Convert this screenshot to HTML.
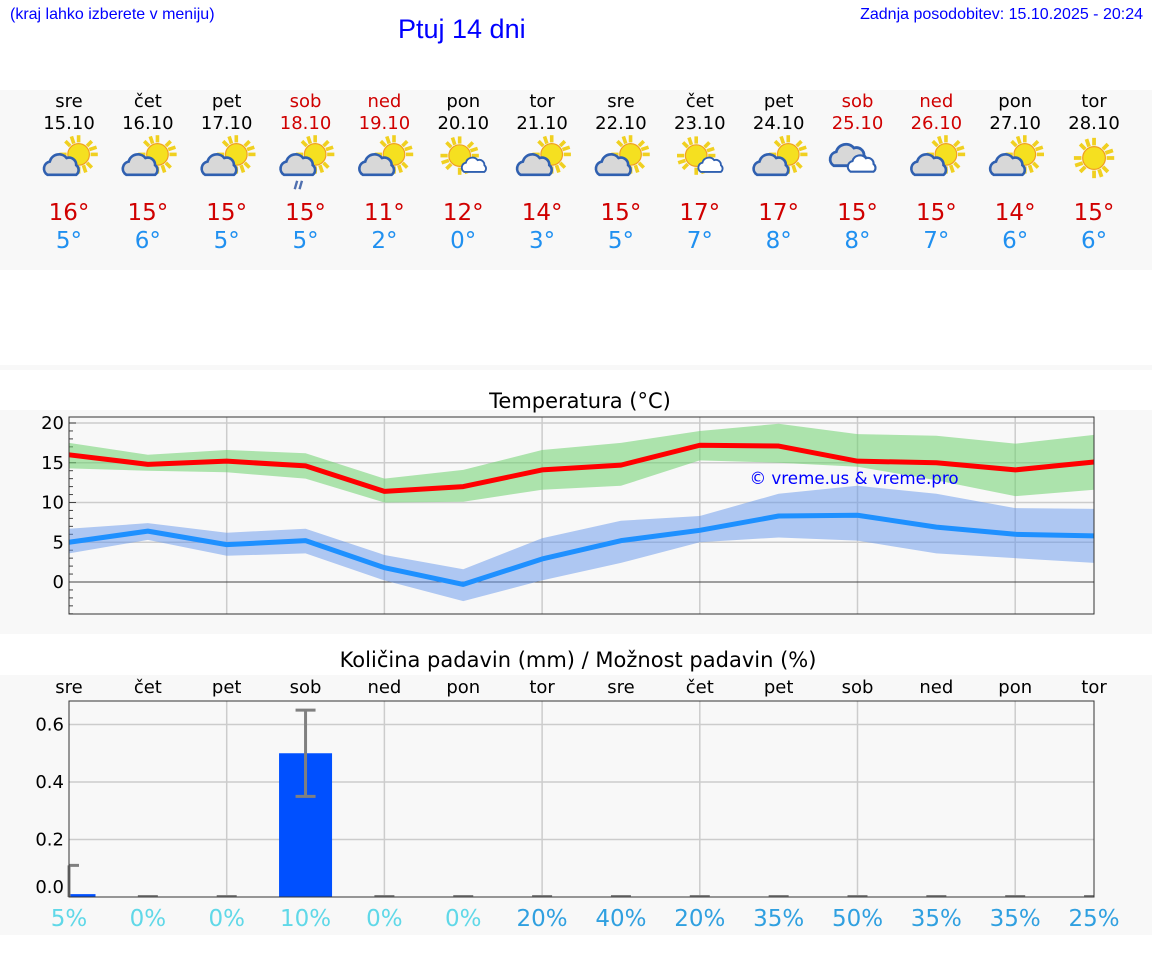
<!DOCTYPE html>
<html><head><meta charset="utf-8">
<style>
body{margin:0;width:1152px;height:975px;background:#fff;font-family:"DejaVu Sans","Liberation Sans",sans-serif;overflow:hidden;position:relative}
.abs{position:absolute}
</style></head>
<body>
<div class="abs" style="left:10px;top:6px;font:16px 'Liberation Sans',sans-serif;color:#00f">(kraj lahko izberete v meniju)</div>
<div class="abs" style="left:398px;top:14px;font:27px 'Liberation Sans',sans-serif;color:#00f">Ptuj 14 dni</div>
<div class="abs" style="right:9px;top:6px;font:16px 'Liberation Sans',sans-serif;color:#00f">Zadnja posodobitev: 15.10.2025 - 20:24</div>
<svg id="svg" class="abs" style="left:0;top:0" width="1152" height="975">
<defs>
<g id="sun"><g stroke="#f0d020" stroke-width="3">
<line x1="0" y1="-16" x2="0" y2="-10"/><line x1="0" y1="16" x2="0" y2="10"/><line x1="-16" y1="0" x2="-10" y2="0"/><line x1="16" y1="0" x2="10" y2="0"/>
<line x1="-11" y1="-11" x2="-7" y2="-7"/><line x1="11" y1="11" x2="7" y2="7"/><line x1="-11" y1="11" x2="-7" y2="7"/><line x1="11" y1="-11" x2="7" y2="-7"/>
<line x1="-6" y1="-15" x2="-4" y2="-9"/><line x1="6" y1="15" x2="4" y2="9"/><line x1="15" y1="-6" x2="9" y2="-4"/><line x1="-15" y1="6" x2="-9" y2="4"/></g>
<circle r="9" fill="#f5e020" stroke="#f0a020" stroke-width="1"/></g>
<path id="cloud" d="M-16,8 a6,6 0 0 1 2,-11 a8,8 0 0 1 14,-3 a6,6 0 0 1 8,6 a5,5 0 0 1 0,8 z" fill="#d8d8d8" stroke="#3060b0" stroke-width="2.2"/>
<path id="wcloud" d="M-16,8 a6,6 0 0 1 2,-11 a8,8 0 0 1 14,-3 a6,6 0 0 1 8,6 a5,5 0 0 1 0,8 z" fill="#fff" stroke="#3060b0" stroke-width="2.2"/>
</defs>
</svg>
<script>
const days=["sre","čet","pet","sob","ned","pon","tor","sre","čet","pet","sob","ned","pon","tor"];
const dates=["15.10","16.10","17.10","18.10","19.10","20.10","21.10","22.10","23.10","24.10","25.10","26.10","27.10","28.10"];
const weekend=[0,0,0,1,1,0,0,0,0,0,1,1,0,0];
const icons=["pc","pc","pc","rain","pc","sunc","pc","pc","sunc","pc","cloudy","pc","pc","sun"];
const tmaxLabel=[16,15,15,15,11,12,14,15,17,17,15,15,14,15];
const tminLabel=[5,6,5,5,2,0,3,5,7,8,8,7,6,6];
const tmax=[16.0,14.8,15.2,14.6,11.4,12.0,14.1,14.7,17.2,17.1,15.2,15.0,14.1,15.1];
const tmaxHi=[17.5,16.0,16.6,16.2,13.0,14.1,16.6,17.5,19.0,19.9,18.6,18.4,17.4,18.5];
const tmaxLo=[14.3,14.0,13.8,13.0,10.0,10.1,11.6,12.1,15.3,15.0,14.5,12.8,10.8,11.6];
const tmin=[5.0,6.4,4.7,5.2,1.8,-0.3,2.9,5.2,6.5,8.3,8.4,6.9,6.0,5.8];
const tminHi=[6.7,7.4,6.2,6.7,3.4,1.6,5.5,7.7,8.3,11.1,12.1,11.1,9.3,9.2];
const tminLo=[3.6,5.3,3.3,3.6,0.2,-2.4,0.2,2.4,5.0,5.6,5.2,3.6,3.0,2.4];
const tTicks=[0,5,10,15,20];
const precip=[0.01,0,0,0.5,0,0,0,0,0,0,0,0,0,0];
const precipHi=[0.11,0,0,0.65,0,0,0,0,0,0,0,0,0,0];
const precipLo=[0,0,0,0.35,0,0,0,0,0,0,0,0,0,0];
const chance=[5,0,0,10,0,0,20,40,20,35,50,35,35,25];
const pTicks=[0.0,0.2,0.4,0.6];

const S=document.getElementById('svg'),NS='http://www.w3.org/2000/svg';
function mk(t,a,p){const e=document.createElementNS(NS,t);for(const k in a)e.setAttribute(k,a[k]);(p||S).appendChild(e);return e;}
function txt(x,y,s,a){const e=mk('text',Object.assign({x:x,y:y,'text-anchor':'middle','font-family':'DejaVu Sans, Liberation Sans, sans-serif','font-size':18,fill:'#000'},a));e.textContent=s;return e;}
const X=i=>69+i*78.85;
let r;
r=mk('rect',{x:0,y:90,width:1152,height:180,fill:'#f8f8f8'});
r=mk('rect',{x:0,y:365,width:1152,height:5,fill:'#f8f8f8'});
r=mk('rect',{x:0,y:410,width:1152,height:224,fill:'#f8f8f8'});
r=mk('rect',{x:0,y:675,width:1152,height:260,fill:'#f8f8f8'});
for(let i=0;i<14;i++){
  const x=X(i),c=weekend[i]?'#d00000':'#000';
  let t=txt(x,107,days[i],{fill:c});
  t=txt(x,129,dates[i],{fill:c});
  const g=mk('g',{transform:`translate(${x},158) scale(1.2)`});
  
  const ic=icons[i];
  if(ic==='pc'||ic==='rain'){mk('use',{href:'#sun',transform:'translate(8,-3)'},g);mk('use',{href:'#cloud',transform:'translate(-2,6)'},g);
    if(ic==='rain'){mk('path',{d:'M-7,19 l-2,7 M-3,19 l-2,7',stroke:'#5070b0','stroke-width':2},g);}}
  else if(ic==='sunc'){mk('use',{href:'#sun',transform:'translate(-3,-2)'},g);mk('use',{href:'#wcloud',transform:'translate(12,6) scale(0.7)'},g);}
  else if(ic==='cloudy'){mk('use',{href:'#cloud',transform:'translate(-3,-2) scale(1.05)'},g);mk('use',{href:'#wcloud',transform:'translate(7,5) scale(0.8)'},g);}
  else {mk('use',{href:'#sun',transform:'scale(1.05)'},g);}
  t=txt(x,220,tmaxLabel[i]+'°',{fill:'#d00000','font-size':23});
  t=txt(x,248,tminLabel[i]+'°',{fill:'#2090f0','font-size':23});
}
const L=69,R=1094,TT=417,TB=614;
const TY=v=>582-v*7.95;
let t=txt(580,408,'Temperatura (°C)',{'font-size':21});
r=mk('rect',{x:L,y:TT,width:R-L,height:TB-TT,fill:'#f8f8f8'});
for(let i=2;i<14;i+=2){const l=mk('line',{x1:X(i),x2:X(i),y1:TT,y2:TB,stroke:'#ccc','stroke-width':1.5});}
for(const v of tTicks){const y=TY(v);const l=mk('line',{x1:L,x2:R,y1:y,y2:y,stroke:v===0?'#444':'#ccc','stroke-width':v===0?1:1.5});
  const tl=txt(64,y+6,String(v),{'text-anchor':'end'});}
for(let v=-4;v<=20;v++){const l=mk('line',{x1:L,x2:L+(v%5===0?7:4),y1:TY(v),y2:TY(v),stroke:'#444','stroke-width':1});}
function band(hi,lo,col,name){let d='M'+hi.map((v,i)=>X(i)+','+TY(v)).join('L')+'L'+lo.map((v,i)=>X(i)+','+TY(v)).reverse().join('L')+'Z';
  const p=mk('path',{d:d,fill:col});}
function line(a,col,name){const p=mk('polyline',{points:a.map((v,i)=>X(i)+','+TY(v)).join(' '),fill:'none',stroke:col,'stroke-width':5,'stroke-linejoin':'round'});}
band(tmaxHi,tmaxLo,'rgba(110,210,110,0.55)','max-temp-range');
band(tminHi,tminLo,'rgba(100,150,235,0.5)','min-temp-range');
line(tmax,'#ff0000','max-temp-line');
line(tmin,'#1e90ff','min-temp-line');
t=txt(854,484,'© vreme.us & vreme.pro',{fill:'#0000ff','font-size':16.7});
r=mk('rect',{x:L,y:TT,width:R-L,height:TB-TT,fill:'none',stroke:'#333','stroke-width':1});
const PT=701,PB=897,PY=v=>897-v*287.5;
t=txt(578,667,'Količina padavin (mm) / Možnost padavin (%)',{'font-size':21});
r=mk('rect',{x:L,y:PT,width:R-L,height:PB-PT,fill:'#f8f8f8'});
for(let i=0;i<14;i++){t=txt(X(i),693,days[i]);}
for(let i=2;i<14;i+=2){const l=mk('line',{x1:X(i),x2:X(i),y1:PT,y2:PB,stroke:'#ccc','stroke-width':1.5});}
for(const v of pTicks){const y=PY(v);if(v>0){const l=mk('line',{x1:L,x2:R,y1:y,y2:y,stroke:'#ccc','stroke-width':1.5});}
  const tl=txt(64,(v===0?y-4:y+6),v.toFixed(1),{'text-anchor':'end'});}
for(let i=0;i<14;i++){
  const x=X(i),w=53,x0=Math.max(L,x-w/2),x1=Math.min(R,x+w/2);
  if(precip[i]>0){const b=mk('rect',{x:x0,y:PY(precip[i]),width:x1-x0,height:PB-PY(precip[i]),fill:'#0050ff'});}
  if(precipHi[i]>0){const e=mk('path',{d:`M${x},${PY(precipLo[i])}V${PY(precipHi[i])}M${Math.max(L,x-10)},${PY(precipHi[i])}H${x+10}`+(precipLo[i]>0?`M${x-10},${PY(precipLo[i])}H${x+10}`:''),stroke:'#808080','stroke-width':3,fill:'none'});}
  else{const e=mk('line',{x1:x-10,x2:Math.min(R,x+10),y1:PB-1,y2:PB-1,stroke:'#808080','stroke-width':2});}
  t=txt(x,926,chance[i]+'%',{'font-size':23,fill:chance[i]>=20?'#30a0e0':'#60d8e8'});
}
r=mk('rect',{x:L,y:PT,width:R-L,height:PB-PT,fill:'none',stroke:'#333','stroke-width':1});
</script>
</body></html>
